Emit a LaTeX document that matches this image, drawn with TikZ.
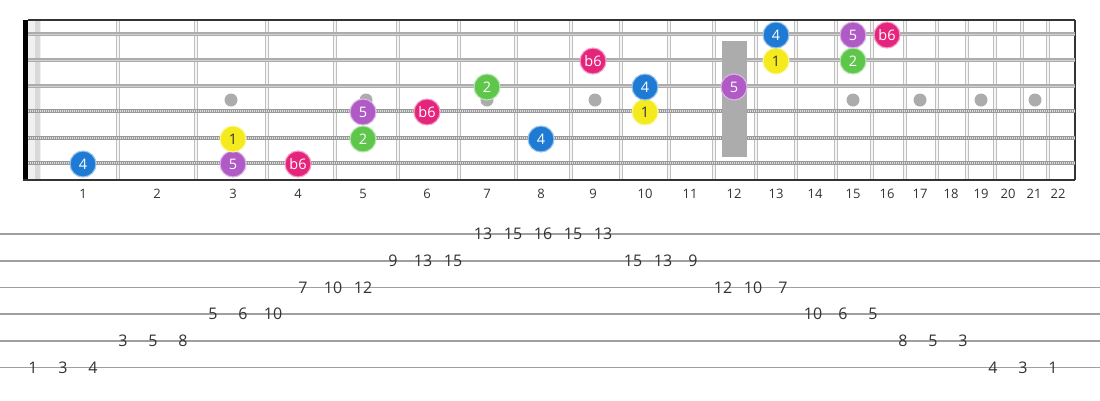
\documentclass[tikz,border=0pt]{standalone}
\usepackage{fontspec}
\setmainfont{Open Sans}
\usetikzlibrary{positioning}
\definecolor{degBlue}{HTML}{1E7AD2}
\definecolor{degYellow}{HTML}{F4EA1E}
\definecolor{degPurple}{HTML}{B05AC6}
\definecolor{degPink}{HTML}{E5257C}
\definecolor{degGreen}{HTML}{5EC74B}
\definecolor{mainGray}{HTML}{333333}

\tikzset{
  note/.style={circle, minimum size=26pt, inner sep=0pt, line width=1.1pt,
    fill=#1, draw=#1!45!white, font=\fontsize{14.5}{14}\selectfont},
  fretnum/.style={font=\fontsize{13}{13}\selectfont, text=mainGray, inner sep=0pt},
  tabnum/.style={font=\fontsize{16}{16}\selectfont, text=mainGray, inner sep=0pt},
  tabline/.style={draw=gray!75, line width=1.6pt},
  inlay/.style={fill=gray!65},
}

\begin{document}
\begin{tikzpicture}[x=1pt, y=-1pt]
    \useasboundingbox (0,0) rectangle (1100,400);

    % strings, top (high e) to bottom (low E)
    \foreach \s/\y in {1/34, 2/60, 3/86, 4/111, 5/138, 6/163}
        \coordinate (s\s) at (0,\y);

    % nut
    \fill[gray!12] (28,20) rectangle (41,180);
    \fill[gray!30] (35,20) rectangle (40,180);
    \fill[black] (23,20) rectangle (28,180);

    % fret wires
    \foreach \x in {118,196,267,335,398,459,516,571,621,669,714,756,796,836,872,905,937,967,995,1022,1048} {
        \draw[gray!50, line width=4.2pt] (\x,20) -- (\x,180);
        \draw[gray!8, line width=1.3pt] (\x,20) -- (\x,180);
    }

    % board edges
    \draw[mainGray, line width=1.8pt] (28,20) -- (1075,20);
    \draw[mainGray, line width=1.8pt] (23,180) -- (1075,180);
    \draw[mainGray, line width=2pt] (1075,20) -- (1075,180);

    % inlays
    \foreach \x in {231,366,487,595,853,920,981,1035}
        \fill[inlay] (\x,100) circle (6.5pt);

    % plain strings
    \foreach \s in {1,2,3} {
        \draw[gray!65, line width=3.2pt] (s\s -| 28,0) -- (s\s -| 1075,0);
        \draw[gray!35, line width=1pt] (s\s -| 28,0) -- (s\s -| 1075,0);
    }
    % wound strings
    \foreach \s in {4,5,6} {
        \draw[gray!80, line width=4.4pt] (s\s -| 28,0) -- (s\s -| 1075,0);
        \draw[gray!25, line width=2.2pt, dash pattern=on 1pt off 1pt] (s\s -| 28,0) -- (s\s -| 1075,0);
    }

    % 12th fret block
    \fill[gray!65] (722,41) rectangle (747,157);

    % fret numbers
    \foreach \n/\x in {1/83, 2/157, 3/233, 4/298, 5/363, 6/427, 7/487, 8/541, 9/593, 10/645, 11/690,
                       12/734, 13/776, 14/815, 15/853, 16/887, 17/920, 18/951, 19/981, 20/1008, 21/1034, 22/1058}
        \node[fretnum] (n\n) at (\x,194) {\n};

    % scale degrees: fret/string/degree/colour/text
    \foreach \f/\s/\d/\c/\t in {1/6/4/degBlue/white, 3/6/5/degPurple/white, 4/6/b6/degPink/white,
                                3/5/1/degYellow/mainGray, 5/5/2/degGreen/white, 8/5/4/degBlue/white,
                                5/4/5/degPurple/white, 6/4/b6/degPink/white, 10/4/1/degYellow/mainGray,
                                7/3/2/degGreen/white, 10/3/4/degBlue/white, 12/3/5/degPurple/white,
                                9/2/b6/degPink/white, 13/2/1/degYellow/mainGray, 15/2/2/degGreen/white,
                                13/1/4/degBlue/white, 15/1/5/degPurple/white, 16/1/b6/degPink/white}
        \node[note=\c, text=\t, yshift=-1pt] (f\f s\s) at (n\f |- s\s) {\d};

    % tab staff
    \foreach \y [count=\l] in {234, 260.7, 287.3, 314, 340.7, 367.3}
        \draw[tabline] (0,\y) coordinate (t\l) -- (1100,\y);

    % tab: line/fret, one column every 30px
    \foreach \l/\fr [count=\k from 0] in {6/1, 6/3, 6/4, 5/3, 5/5, 5/8, 4/5, 4/6, 4/10, 3/7, 3/10, 3/12,
                                          2/9, 2/13, 2/15, 1/13, 1/15, 1/16, 1/15, 1/13, 2/15, 2/13, 2/9,
                                          3/12, 3/10, 3/7, 4/10, 4/6, 4/5, 5/8, 5/5, 5/3, 6/4, 6/3, 6/1}
        \path (t\l) ++({33+30*\k},0) node[tabnum] (c\k) {\fr};
\end{tikzpicture}
\end{document}
